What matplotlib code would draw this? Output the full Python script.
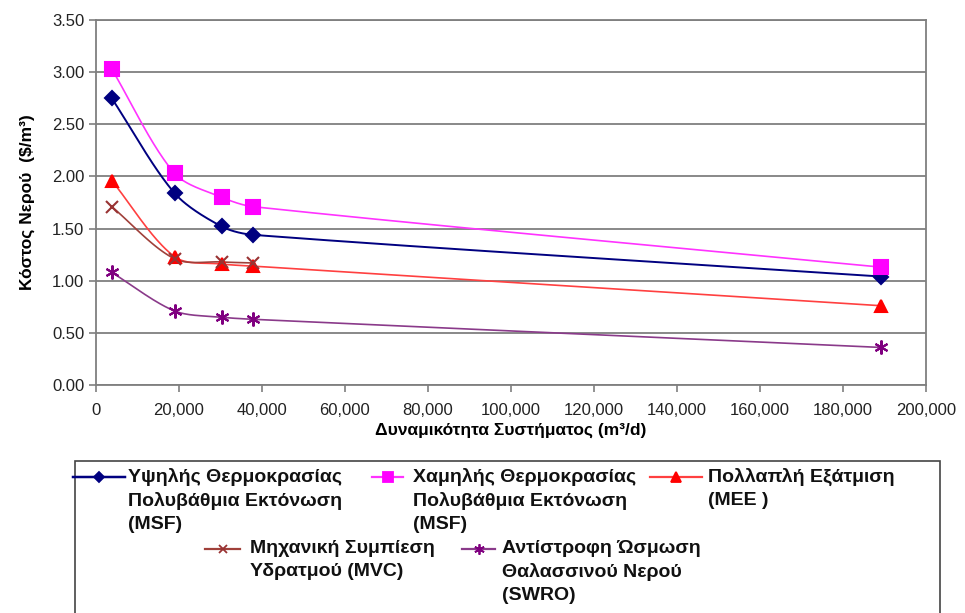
import numpy as np
import matplotlib.pyplot as plt
from matplotlib.lines import Line2D
from matplotlib.patches import Rectangle
from matplotlib.ticker import FuncFormatter, MultipleLocator

# δεδομένα: κόστος νερού ανά δυναμικότητα μονάδας
capacity = [3785, 18925, 30280, 37850, 189250]
msf_high = [2.75, 1.84, 1.52, 1.44, 1.04]
msf_low = [3.03, 2.03, 1.80, 1.71, 1.13]
mee = [1.96, 1.23, 1.16, 1.14, 0.76]
mvc = [1.71, 1.21, 1.18, 1.17]
swro = [1.08, 0.71, 0.65, 0.63, 0.36]

labels = ["Υψηλής Θερμοκρασίας\nΠολυβάθμια Εκτόνωση\n(MSF)",
          "Χαμηλής Θερμοκρασίας\nΠολυβάθμια Εκτόνωση\n(MSF)",
          "Πολλαπλή Εξάτμιση\n(MEE )",
          "Μηχανική Συμπίεση\nΥδρατμού (MVC)",
          "Αντίστροφη Ώσμωση\nΘαλασσινού Νερού\n(SWRO)"]

W, H = 965, 613
fig = plt.figure(figsize=(W / 100, H / 100), dpi=100)
ax = fig.add_axes([96 / W, 1 - 385 / H, 830 / W, 365 / H])

XMAX, YMAX = 200000, 3.5


def smooth(x, y, n=40, k=0.3):
    # ομαλή καμπύλη Bezier σε κλίμακα pixel, με εφαπτόμενες
    # ανάλογες του μήκους κάθε τμήματος ώστε να μην υπάρχει υπερακόντιση
    sx, sy = 830 / XMAX, 365 / YMAX
    pts = np.column_stack([np.asarray(x, float) * sx, np.asarray(y, float) * sy])
    P = np.vstack([pts[0], pts, pts[-1]])
    t = np.linspace(0, 1, n)[:, None]
    out = []
    for i in range(1, len(P) - 2):
        p0, p1, p2, p3 = P[i - 1], P[i], P[i + 1], P[i + 2]
        L = np.hypot(*(p2 - p1))
        d1 = (p2 - p0) / np.hypot(*(p2 - p0))
        d2 = (p3 - p1) / np.hypot(*(p3 - p1))
        c1 = p1 + d1 * L * k
        c2 = p2 - d2 * L * k
        seg = (1 - t) ** 3 * p1 + 3 * (1 - t) ** 2 * t * c1 + 3 * (1 - t) * t ** 2 * c2 + t ** 3 * p2
        out.append(seg if i == 1 else seg[1:])
    out = np.vstack(out)
    return out[:, 0] / sx, out[:, 1] / sy


star = (6, 2, 0)
series = [
    (msf_high, "#000080", "#000080", "D", 7, 1.4),
    (msf_low, "#ff33ff", "#ff00ff", "s", 10, 1.2),
    (mee, "#ff4040", "#ff0000", "^", 9, 1.2),
    (mvc, "#a0403a", "#993333", "x", 8, 1.2),
    (swro, "#8a3a8a", "#800080", star, 10, 1.2),
]

for vals, lc, mc, mk, ms, lw in series:
    xs = capacity[:len(vals)]
    sx, sy = smooth(xs, vals)
    ax.plot(sx, sy, color=lc, lw=lw, zorder=3)
    ax.plot(xs, vals, ls="none", marker=mk, ms=ms, color=mc, mec=mc, mew=1.5, zorder=4)

ax.set_xlim(0, XMAX)
ax.set_ylim(0, YMAX)
ax.xaxis.set_major_locator(MultipleLocator(20000))
ax.yaxis.set_major_locator(MultipleLocator(0.5))
ax.xaxis.set_major_formatter(FuncFormatter(lambda v, p: f"{int(v):,}"))
ax.yaxis.set_major_formatter(FuncFormatter(lambda v, p: f"{v:.2f}"))
ax.grid(axis="y", color="#7f7f7f", lw=1.3)
ax.set_axisbelow(True)
for s in ax.spines.values():
    s.set_color("#7f7f7f")
    s.set_linewidth(1.3)
ax.tick_params(colors="#7f7f7f", length=5, width=1.2, labelcolor="#222222",
               labelsize=12, labelfontfamily="Liberation Sans")
ax.tick_params(axis="x", pad=8)

ax.set_xlabel("Δυναμικότητα Συστήματος (m³/d)", fontsize=12.5, fontweight="bold",
              family="Liberation Sans", labelpad=3)
ax.set_ylabel("Κόστος Νερού  ($/m³)", fontsize=12.5, fontweight="bold",
              family="Liberation Sans", labelpad=12)


def fx(px):
    return px / W


def fy(py):
    return 1 - py / H


# πλαίσιο υπομνήματος
fig.add_artist(Rectangle((fx(75), fy(640)), fx(940) - fx(75), fy(461) - fy(640),
                         transform=fig.transFigure, fill=False, ec="#444444", lw=1.2,
                         clip_on=False))

# θέσεις στοιχείων υπομνήματος: (αρχή γραμμής, τέλος γραμμής, αρχή κειμένου, y)
entries = [(73, 125, 128, 477), (372, 403, 413, 477), (650, 702, 708, 477),
           (205, 240, 250, 549), (462, 495, 502, 549)]

for (vals, lc, mc, mk, ms, lw), lab, (x0, x1, xt, y) in zip(series, labels, entries):
    fig.add_artist(Line2D([fx(x0), fx(x1)], [fy(y), fy(y)], transform=fig.transFigure,
                          color=lc, lw=lw + 0.4))
    fig.add_artist(Line2D([fx((x0 + x1) / 2)], [fy(y)], transform=fig.transFigure,
                          marker=mk, ms=ms * 0.75, color=mc, mec=mc, mew=1.3))
    fig.text(fx(xt), fy(y - 9), lab, ha="left", va="top", fontsize=14,
             fontweight="bold", family="Liberation Sans", linespacing=1.45,
             color="#111111")

fig.savefig("out.png", dpi=100)
